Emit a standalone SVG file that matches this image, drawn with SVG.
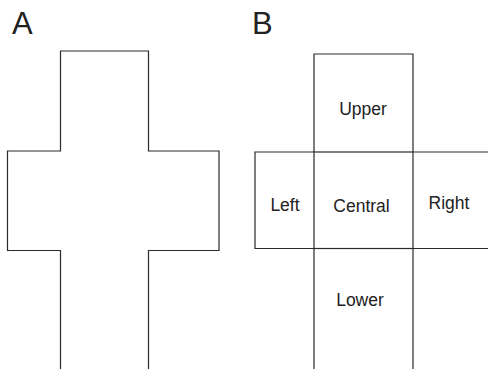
<svg xmlns="http://www.w3.org/2000/svg" width="488" height="369" viewBox="0 0 488 369">
<style>
.ln{fill:none;stroke:#2a2a2a;stroke-width:1.2}
.lbl{font-family:"Liberation Sans",Arial,sans-serif;font-size:17.5px;fill:#222}
.pl{font-family:"Liberation Sans",Arial,sans-serif;font-size:31px;fill:#222}
</style>
<rect width="488" height="369" fill="#fff"/>
<text class="pl" x="12" y="34">A</text>
<text class="pl" x="252" y="34">B</text>
<g id="crossA">
<path class="ln" d="M60.5,369 V250.5 H7.5 V151 H60.5 V51 H148.5 V151 H219 V250.5 H148.5 V369"/>
</g>
<g id="upper">
<path class="ln" d="M314,152 V54 H413 V152"/>
<text class="lbl" x="363" y="115" text-anchor="middle">Upper</text>
</g>
<g id="left">
<path class="ln" d="M314,152 H255 V248.5 H314"/>
<text class="lbl" x="285" y="211" text-anchor="middle">Left</text>
</g>
<g id="central">
<rect class="ln" x="314" y="152" width="99" height="96.5"/>
<text class="lbl" x="361.5" y="212" text-anchor="middle">Central</text>
</g>
<g id="right">
<path class="ln" d="M413,152 H488 M413,248.5 H488"/>
<text class="lbl" x="449" y="209" text-anchor="middle">Right</text>
</g>
<g id="lower">
<path class="ln" d="M314,248.5 V369 M413,248.5 V369"/>
<text class="lbl" x="360" y="306" text-anchor="middle">Lower</text>
</g>
<g id="connectors"></g>
</svg>
